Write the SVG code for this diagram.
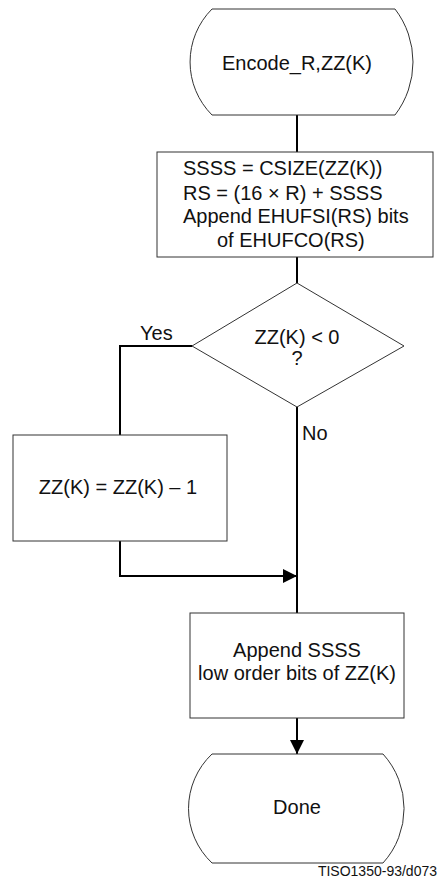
<svg xmlns="http://www.w3.org/2000/svg" width="439" height="888" viewBox="0 0 439 888">
<style>
.shape{fill:#fff;stroke:#333;stroke-width:1}
.conn{fill:none;stroke:#000;stroke-width:2}
text{font-family:"Liberation Sans",Arial,sans-serif;font-size:20px;fill:#111}
.c{text-anchor:middle}
</style>
<defs>
<marker id="ah" viewBox="0 0 10 10" refX="10" refY="5" markerWidth="7" markerHeight="7" markerUnits="userSpaceOnUse" orient="auto">
<path d="M0,0 L10,5 L0,10 Z" fill="#000"/>
</marker>
<marker id="ah2" viewBox="0 0 14 14" refX="14" refY="7" markerWidth="14" markerHeight="14" markerUnits="userSpaceOnUse" orient="auto">
<path d="M0,0 L14,7 L0,14 Z" fill="#000"/>
</marker>
</defs>
<rect width="439" height="888" fill="#fff"/>
<g id="connectors">
<path class="conn" d="M297,115 V152"/>
<path class="conn" d="M297,257 V283"/>
<path class="conn" d="M192,346 H120 V435"/>
<path class="conn" d="M297,407 V613"/>
<path class="conn" d="M120,541 V576 H297" marker-end="url(#ah2)"/>
<path class="conn" d="M297,718 V754" marker-end="url(#ah2)"/>
</g>
<g id="start">
<path class="shape" d="M212,9 H395 A87,87 0 0 1 395,115 H212 A75,75 0 0 1 212,9 Z"/>
<text class="c" x="297" y="70">Encode_R,ZZ(K)</text>
</g>
<g id="process1">
<rect class="shape" x="157" y="152" width="276" height="105"/>
<text x="183" y="175">SSSS = CSIZE(ZZ(K))</text>
<text x="183" y="200">RS = (16 × R) + SSSS</text>
<text x="183" y="223">Append EHUFSI(RS) bits</text>
<text x="217" y="247">of EHUFCO(RS)</text>
</g>
<g id="decision">
<path class="shape" d="M297,283 L404,346 L297,407 L192,346 Z"/>
<text class="c" x="297" y="344">ZZ(K) &lt; 0</text>
<text class="c" x="297" y="365">?</text>
<text x="140" y="340">Yes</text>
<text x="302" y="440">No</text>
</g>
<g id="decrement">
<rect class="shape" x="13" y="435" width="214" height="106"/>
<text class="c" x="118" y="494">ZZ(K) = ZZ(K) – 1</text>
</g>
<g id="append">
<rect class="shape" x="190" y="613" width="214" height="105"/>
<text class="c" x="297" y="657">Append SSSS</text>
<text class="c" x="297" y="680">low order bits of ZZ(K)</text>
</g>
<g id="done">
<path class="shape" d="M212,754 H383 A81,81 0 0 1 383,863 H212 A75,75 0 0 1 212,754 Z"/>
<text class="c" x="297" y="814">Done</text>
</g>
<text x="437" y="876" style="text-anchor:end;font-size:14px">TISO1350-93/d073</text>
</svg>
